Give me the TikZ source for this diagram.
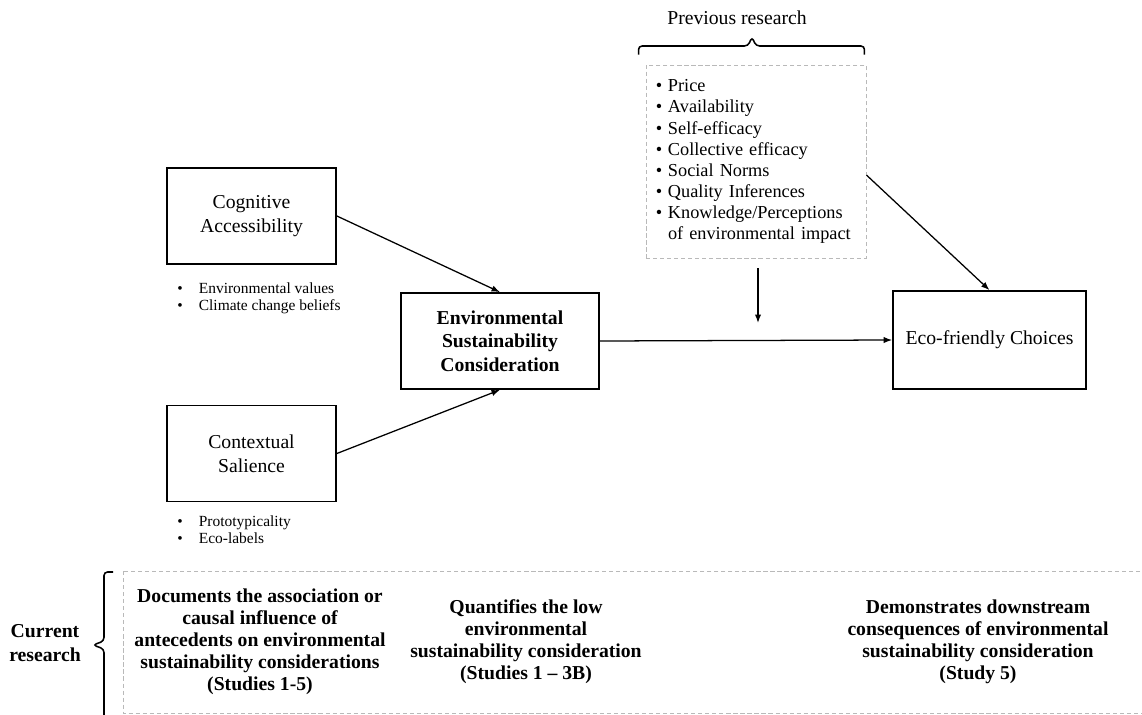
\documentclass[tikz,border=0pt]{standalone}
\usepackage{fontspec}
\setmainfont{Liberation Serif}
\usetikzlibrary{arrows.meta}
\newcommand{\boxfont}{\fontsize{14}{16.8}\selectfont}
\newcommand{\listfont}{\fontsize{13}{15}\selectfont}
\newcommand{\notefont}{\fontsize{11}{12.2}\selectfont}
\newcommand{\botfont}{\fontsize{14}{15.6}\selectfont\bfseries}
\tikzset{
  box/.style={draw, line width=1.2pt, align=center, font=\boxfont, inner sep=0pt},
  dashbox/.style={draw=gray!55, dash pattern=on 3pt off 2pt, line width=0.6pt},
  arr/.style={-{Latex[length=6pt,width=4.5pt]}, line width=0.9pt},
  bracket/.style={line width=1.1pt, rounded corners=2.5pt},
}
\begin{document}
\begin{tikzpicture}[x=0.025cm, y=-0.025cm]
  \useasboundingbox (0,0) rectangle (1142,715);
  \clip (0,0) rectangle (1142,715);
  % model boxes
  \node[box, minimum width=4.225cm, minimum height=2.4cm] (cog) at (251.5,216) {Cognitive\\Accessibility};
  \node[box, minimum width=4.225cm, minimum height=2.4cm] (ctx) at (251.5,453.5) {Contextual\\Salience};
  \node[box, font=\boxfont\bfseries, minimum width=4.95cm, minimum height=2.4cm] (esc) at (500,341) {Environmental\\Sustainability\\Consideration};
  \node[box, minimum width=4.825cm, minimum height=2.45cm] (eco) at (989.5,340) {Eco-friendly Choices};
  % antecedent notes
  \node[anchor=west, font=\notefont, inner sep=0pt] (cogl) at (177,298.5) {\begin{tabular}{@{}l@{\hspace{11.5pt}}l@{}}
    \textbullet & Environmental values\\
    \textbullet & Climate change beliefs
  \end{tabular}};
  \node[anchor=west, font=\notefont, inner sep=0pt] (ctxl) at (177,531.5) {\begin{tabular}{@{}l@{\hspace{11.5pt}}l@{}}
    \textbullet & Prototypicality\\
    \textbullet & Eco-labels
  \end{tabular}};
  % previous research
  \node[dashbox, text width=5.0cm, minimum height=4.825cm, inner xsep=0.25cm, align=left, font=\listfont] (prev) at (756,161.5) {\begin{tabular}{@{}l@{\hspace{4pt}}l@{}}
    \textbullet & Price\\
    \textbullet & Availability\\
    \textbullet & Self-efficacy\\
    \textbullet & Collective efficacy\\
    \textbullet & Social Norms\\
    \textbullet & Quality Inferences\\
    \textbullet & Knowledge/Perceptions\\
                & of environmental impact
  \end{tabular}};
  \node[font=\boxfont] (prevlbl) at (737,18) {Previous research};
  \coordinate (tl) at ([shift={(-7,-10)}]prev.north west);
  \coordinate (tr) at ([shift={(-2,-10)}]prev.north east);
  \draw[bracket] (tl) |- (748,46) -- (752,37) -- (756,46) -| (tr);
  % arrows
  \coordinate (mod) at (758,323);
  \draw[arr] (cog.east) -- (esc.north);
  \draw[arr] (ctx.east) -- (esc.south);
  \draw[arr] (esc.east) -- (eco.west);
  \draw[arr] (prev.-7) -- (eco.north);
  \draw[arr] ([shift={(2,10)}]prev.south) -- (mod);
  % current research
  \draw[dashbox] (123,571) rectangle (1147,713);
  \draw[bracket] (113,572) -| (104,641) -- (93,645) -- (104,649) -- (104,719);
  \node[font=\boxfont\bfseries, align=center] (curlbl) at (45,643) {Current\\research};
  \node[font=\botfont, align=center] (st1) at (260,642) {Documents the association or\\causal influence of\\antecedents on environmental\\sustainability considerations\\(Studies 1-5)};
  \node[font=\botfont, align=center] (st2) at (526,642) {Quantifies the low\\environmental\\sustainability consideration\\(Studies 1 – 3B)};
  \node[font=\botfont, align=center] (st3) at (978,642) {Demonstrates downstream\\consequences of environmental\\sustainability consideration\\(Study 5)};
\end{tikzpicture}
\end{document}
